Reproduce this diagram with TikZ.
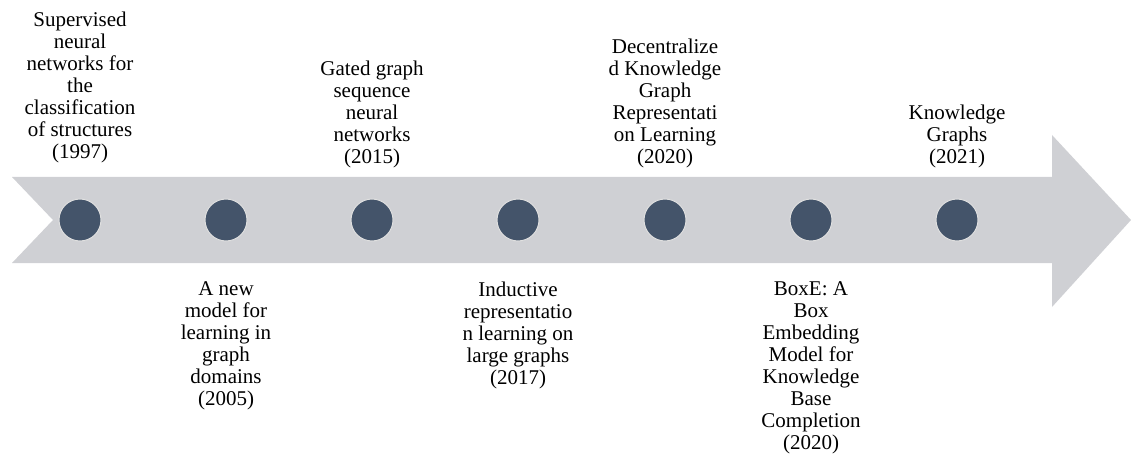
\documentclass[tikz,border=0pt]{standalone}
\usepackage{fontspec}
\setmainfont{Liberation Serif}
\usetikzlibrary{positioning}
\definecolor{pilgraa}{RGB}{207,208,212}
\definecolor{prikkfarge}{RGB}{68,84,106}

\begin{document}
\begin{tikzpicture}[x=1pt,y=-1pt,node distance=30pt,font=\fontsize{21}{22}\selectfont]
\tikzset{
    %Define style for the dots
    prikk/.style={
           circle,
           fill=prikkfarge,
           draw=white!88!black, line width=1pt,
           minimum size=42pt,
           inner sep=0pt},
    %Define style for the labels
    etikett/.style={
           align=center,
           inner sep=0pt}
}
	\path[use as bounding box] (0,0) rectangle (1131,454);

 %arrow
	\fill[pilgraa] (12,177) -- (1052,177) -- (1052,135) -- (1131,220) -- (1052,307) -- (1052,263) -- (12,263) -- (53,220) -- cycle;

 %dots
	\node[prikk] (d1997) at (80,220) {};
	\node[prikk] (d2005) at (226,220) {};
	\node[prikk] (d2015) at (372,220) {};
	\node[prikk] (d2017) at (518,220) {};
	\node[prikk] (d2020a) at (665,220) {};
	\node[prikk] (d2020b) at (811,220) {};
	\node[prikk] (d2021) at (957,220) {};

 %labels
	\node[etikett,above=35pt of d1997] (l1997) {Supervised\\neural\\networks for\\the\\classification\\of structures\\(1997)};

	\node[etikett,below=40pt of d2005] (l2005) {A new\\model for\\learning in\\graph\\domains\\(2005)};

	\node[etikett,above=30pt of d2015] (l2015) {Gated graph\\sequence\\neural\\networks\\(2015)};

	\node[etikett,below=40pt of d2017] (l2017) {Inductive\\representatio\\n learning on\\large graphs\\(2017)};

	\node[etikett,above=30pt of d2020a] (l2020a) {Decentralize\\d Knowledge\\Graph\\Representati\\on Learning\\(2020)};

	\node[etikett,below=40pt of d2020b] (l2020b) {BoxE: A\\Box\\Embedding\\Model for\\Knowledge\\Base\\Completion\\(2020)};

	\node[etikett,above=30pt of d2021] (l2021) {Knowledge\\Graphs\\(2021)};

\end{tikzpicture}
\end{document}
